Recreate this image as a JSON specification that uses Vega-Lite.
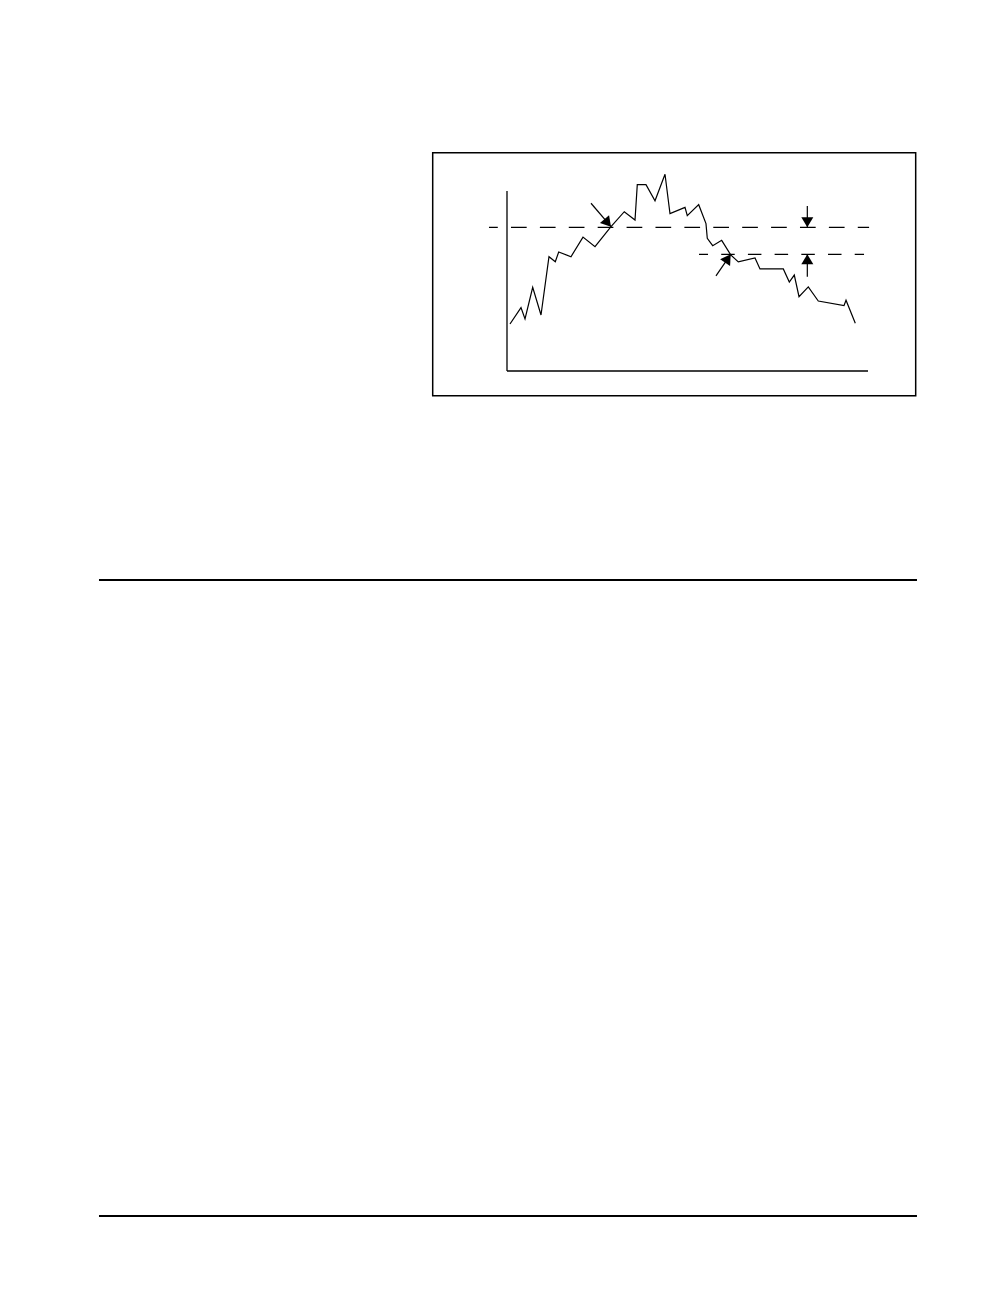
{
  "$schema": "https://vega.github.io/schema/vega-lite/v6.json",
  "width": 1008,
  "height": 1296,
  "autosize": "none",
  "padding": 0,
  "background": "white",
  "datasets": {
    "series": [
      {"t": 0.83, "value": 26.1},
      {"t": 3.88, "value": 35.2},
      {"t": 4.99, "value": 28.9},
      {"t": 7.12, "value": 46.5},
      {"t": 9.42, "value": 31.1},
      {"t": 11.63, "value": 63.5},
      {"t": 13.38, "value": 60.7},
      {"t": 14.32, "value": 66.1},
      {"t": 17.73, "value": 63.5},
      {"t": 21.05, "value": 74.4},
      {"t": 24.38, "value": 69.1},
      {"t": 28.81, "value": 80.2},
      {"t": 32.49, "value": 88.5},
      {"t": 35.46, "value": 83.9},
      {"t": 36.09, "value": 103.5},
      {"t": 38.5, "value": 103.5},
      {"t": 41.0, "value": 94.6},
      {"t": 43.77, "value": 109.3},
      {"t": 45.15, "value": 87.4},
      {"t": 49.31, "value": 90.9},
      {"t": 49.94, "value": 86.3},
      {"t": 53.1, "value": 92.4},
      {"t": 55.12, "value": 81.9},
      {"t": 55.48, "value": 73.7},
      {"t": 56.98, "value": 69.6},
      {"t": 59.47, "value": 72.6},
      {"t": 61.97, "value": 64.5},
      {"t": 64.07, "value": 60.6},
      {"t": 68.7, "value": 62.8},
      {"t": 70.08, "value": 56.7},
      {"t": 76.54, "value": 56.7},
      {"t": 78.2, "value": 49.4},
      {"t": 79.58, "value": 53.3},
      {"t": 80.89, "value": 41.3},
      {"t": 83.46, "value": 46.7},
      {"t": 86.23, "value": 38.9},
      {"t": 93.35, "value": 36.3},
      {"t": 93.91, "value": 39.3},
      {"t": 96.48, "value": 26.5}
    ],
    "frame": [{"x": -20.58, "y": 121.28, "x2": 113.21, "y2": -13.72}],
    "pageRules": [
      {"x": -113.02, "y": -116.1, "x2": 113.57, "y2": -116.1},
      {"x": -113.02, "y": -469.4, "x2": 113.57, "y2": -469.4}
    ],
    "axes": [
      {"x": 0, "y": 0, "x2": 0, "y2": 100},
      {"x": 0, "y": 0, "x2": 100, "y2": 0}
    ],
    "levels": [
      {"level": "upper", "x": -4.99, "y": 79.8, "x2": 100.3, "y2": 79.8},
      {"level": "lower", "x": 53.19, "y": 64.8, "x2": 98.9, "y2": 64.8}
    ],
    "arrows": [
      {"arrow": "a1", "x": 23.27, "y": 93.2, "x2": 28.81, "y2": 80.2},
      {"arrow": "a2", "x": 57.89, "y": 52.8, "x2": 61.97, "y2": 64.8},
      {"arrow": "a3", "x": 83.19, "y": 91.7, "x2": 83.19, "y2": 79.8},
      {"arrow": "a4", "x": 83.19, "y": 52.4, "x2": 83.19, "y2": 64.8}
    ]
  },
  "layer": [
    {
      "data": {"name": "frame"},
      "mark": {"type": "rect", "fill": null, "stroke": "black", "strokeWidth": 1.5},
      "encoding": {
        "x": {"field": "x", "type": "quantitative", "scale": {"domain": [-140.44, 138.78], "nice": false, "zero": false}, "axis": null},
        "x2": {"field": "x2"},
        "y": {"field": "y", "type": "quantitative", "scale": {"domain": [-513.89, 206.11], "nice": false, "zero": false}, "axis": null},
        "y2": {"field": "y2"}
      }
    },
    {
      "data": {"name": "pageRules"},
      "mark": {"type": "rule", "color": "black", "strokeWidth": 2},
      "encoding": {
        "x": {"field": "x", "type": "quantitative", "scale": {"domain": [-140.44, 138.78], "nice": false, "zero": false}, "axis": null},
        "x2": {"field": "x2"},
        "y": {"field": "y", "type": "quantitative", "scale": {"domain": [-513.89, 206.11], "nice": false, "zero": false}, "axis": null},
        "y2": {"field": "y2"}
      }
    },
    {
      "data": {"name": "axes"},
      "mark": {"type": "rule", "color": "black", "strokeWidth": 1.3},
      "encoding": {
        "x": {"field": "x", "type": "quantitative", "scale": {"domain": [-140.44, 138.78], "nice": false, "zero": false}, "axis": null},
        "x2": {"field": "x2"},
        "y": {"field": "y", "type": "quantitative", "scale": {"domain": [-513.89, 206.11], "nice": false, "zero": false}, "axis": null},
        "y2": {"field": "y2"}
      }
    },
    {
      "data": {"name": "levels"},
      "transform": [{"filter": "datum.level == 'upper'"}],
      "mark": {"type": "rule", "color": "black", "strokeWidth": 1.2, "strokeDash": [15.7, 13.2], "strokeDashOffset": 6.9},
      "encoding": {
        "x": {"field": "x", "type": "quantitative", "scale": {"domain": [-140.44, 138.78], "nice": false, "zero": false}, "axis": null},
        "x2": {"field": "x2"},
        "y": {"field": "y", "type": "quantitative", "scale": {"domain": [-513.89, 206.11], "nice": false, "zero": false}, "axis": null},
        "y2": {"field": "y2"}
      }
    },
    {
      "data": {"name": "levels"},
      "transform": [{"filter": "datum.level == 'lower'"}],
      "mark": {"type": "rule", "color": "black", "strokeWidth": 1.2, "strokeDash": [13.5, 13.2], "strokeDashOffset": 4.5},
      "encoding": {
        "x": {"field": "x", "type": "quantitative", "scale": {"domain": [-140.44, 138.78], "nice": false, "zero": false}, "axis": null},
        "x2": {"field": "x2"},
        "y": {"field": "y", "type": "quantitative", "scale": {"domain": [-513.89, 206.11], "nice": false, "zero": false}, "axis": null},
        "y2": {"field": "y2"}
      }
    },
    {
      "data": {"name": "series"},
      "mark": {"type": "line", "color": "black", "strokeWidth": 1.2},
      "encoding": {
        "x": {"field": "t", "type": "quantitative", "scale": {"domain": [-140.44, 138.78], "nice": false, "zero": false}, "axis": null},
        "y": {"field": "value", "type": "quantitative", "scale": {"domain": [-513.89, 206.11], "nice": false, "zero": false}, "axis": null}
      }
    },
    {
      "data": {"name": "arrows"},
      "mark": {"type": "rule", "color": "black", "strokeWidth": 1.2},
      "encoding": {
        "x": {"field": "x", "type": "quantitative", "scale": {"domain": [-140.44, 138.78], "nice": false, "zero": false}, "axis": null},
        "x2": {"field": "x2"},
        "y": {"field": "y", "type": "quantitative", "scale": {"domain": [-513.89, 206.11], "nice": false, "zero": false}, "axis": null},
        "y2": {"field": "y2"}
      }
    },
    {
      "data": {"name": "arrows"},
      "transform": [{"filter": "datum.arrow == 'a1'"}],
      "mark": {"type": "point", "shape": "M0,0L-0.6,1L0.6,1Z", "filled": true, "color": "black", "opacity": 1, "size": 400, "angle": 139.5},
      "encoding": {
        "x": {"field": "x2", "type": "quantitative", "scale": {"domain": [-140.44, 138.78], "nice": false, "zero": false}, "axis": null},
        "y": {"field": "y2", "type": "quantitative", "scale": {"domain": [-513.89, 206.11], "nice": false, "zero": false}, "axis": null}
      }
    },
    {
      "data": {"name": "arrows"},
      "transform": [{"filter": "datum.arrow == 'a2'"}],
      "mark": {"type": "point", "shape": "M0,0L-0.6,1L0.6,1Z", "filled": true, "color": "black", "opacity": 1, "size": 400, "angle": 34.1},
      "encoding": {
        "x": {"field": "x2", "type": "quantitative", "scale": {"domain": [-140.44, 138.78], "nice": false, "zero": false}, "axis": null},
        "y": {"field": "y2", "type": "quantitative", "scale": {"domain": [-513.89, 206.11], "nice": false, "zero": false}, "axis": null}
      }
    },
    {
      "data": {"name": "arrows"},
      "transform": [{"filter": "datum.arrow == 'a3'"}],
      "mark": {"type": "point", "shape": "M0,0L-0.6,1L0.6,1Z", "filled": true, "color": "black", "opacity": 1, "size": 400, "angle": 180},
      "encoding": {
        "x": {"field": "x2", "type": "quantitative", "scale": {"domain": [-140.44, 138.78], "nice": false, "zero": false}, "axis": null},
        "y": {"field": "y2", "type": "quantitative", "scale": {"domain": [-513.89, 206.11], "nice": false, "zero": false}, "axis": null}
      }
    },
    {
      "data": {"name": "arrows"},
      "transform": [{"filter": "datum.arrow == 'a4'"}],
      "mark": {"type": "point", "shape": "M0,0L-0.6,1L0.6,1Z", "filled": true, "color": "black", "opacity": 1, "size": 400, "angle": 0},
      "encoding": {
        "x": {"field": "x2", "type": "quantitative", "scale": {"domain": [-140.44, 138.78], "nice": false, "zero": false}, "axis": null},
        "y": {"field": "y2", "type": "quantitative", "scale": {"domain": [-513.89, 206.11], "nice": false, "zero": false}, "axis": null}
      }
    }
  ],
  "config": {"view": {"stroke": null}}
}
